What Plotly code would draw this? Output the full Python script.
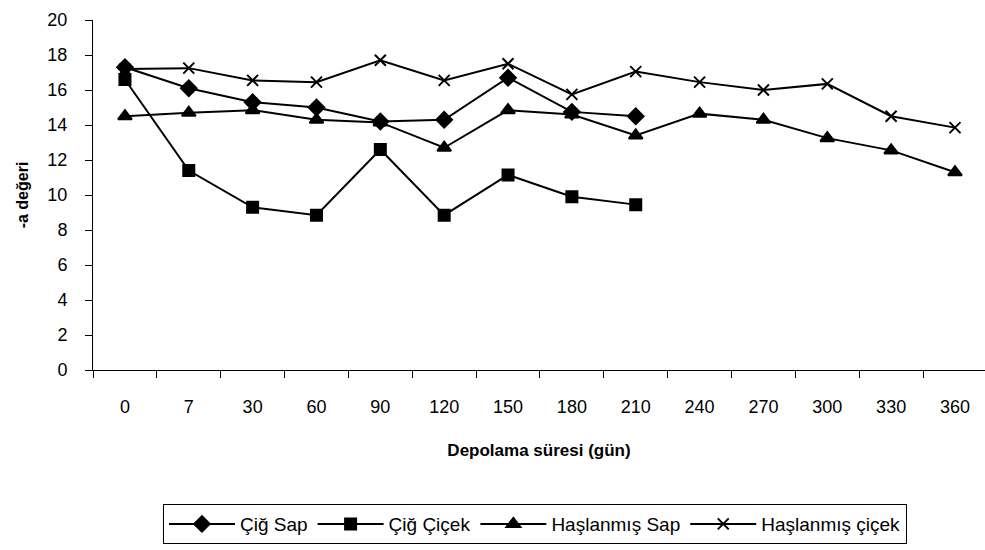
import plotly.graph_objects as go

days = ["0", "7", "30", "60", "90", "120", "150", "180", "210", "240", "270", "300", "330", "360"]

cig_sap = [17.3, 16.1, 15.3, 15.0, 14.2, 14.3, 16.7, 14.75, 14.5]
cig_cicek = [16.6, 11.4, 9.3, 8.85, 12.6, 8.85, 11.15, 9.9, 9.45]
hasl_sap = [14.5, 14.7, 14.85, 14.3, 14.15, 12.7, 14.85, 14.6, 13.4, 14.65, 14.3, 13.25, 12.55, 11.3]
hasl_cicek = [17.2, 17.25, 16.55, 16.45, 17.7, 16.55, 17.5, 15.75, 17.05, 16.45, 16.0, 16.35, 14.5, 13.85]

series = [
    ("Çiğ Sap", cig_sap, "diamond", 12),
    ("Çiğ Çiçek", cig_cicek, "square", 11),
    ("Haşlanmış Sap", hasl_sap, "triangle-up", 12),
    ("Haşlanmış çiçek", hasl_cicek, "x-thin-open", 11),
]

fig = go.Figure()
for name, vals, sym, size in series:
    fig.add_trace(go.Scatter(
        x=days[:len(vals)], y=vals, name=name, mode="lines+markers",
        line=dict(color="black", width=2),
        marker=dict(symbol=sym, size=size, color="black",
                    line=dict(color="black", width=2)),
    ))

font = "Liberation Sans, Arial, sans-serif"
fig.update_layout(
    width=985, height=550,
    margin=dict(l=93, r=0, t=20, b=180),
    paper_bgcolor="white", plot_bgcolor="white",
    font=dict(family=font, size=18, color="black"),
    showlegend=True,
    legend=dict(orientation="h", x=0.4955, xanchor="center", y=-0.383, yanchor="top",
                bordercolor="black", borderwidth=1, font=dict(size=19),
                itemwidth=66, tracegroupgap=0),
)
fig.update_xaxes(
    type="category", categoryorder="array", categoryarray=days,
    range=[-0.5, 13.47], tickson="boundaries", ticks="outside", ticklen=7,
    tickcolor="black", showline=True, linecolor="black", linewidth=1,
    showgrid=False, zeroline=False, ticklabelstandoff=20,
    title=dict(text="<b>Depolama süresi (gün)</b>", font=dict(size=17), standoff=28),
)
fig.update_yaxes(
    range=[0, 20], tickvals=list(range(0, 21, 2)), ticks="outside", ticklen=7,
    tickcolor="black", showline=True, linecolor="black", linewidth=1,
    showgrid=False, zeroline=False, ticklabelstandoff=14,
    title=dict(text="<b>-a değeri</b>", font=dict(size=16), standoff=14),
)
fig.write_html("out.html")
